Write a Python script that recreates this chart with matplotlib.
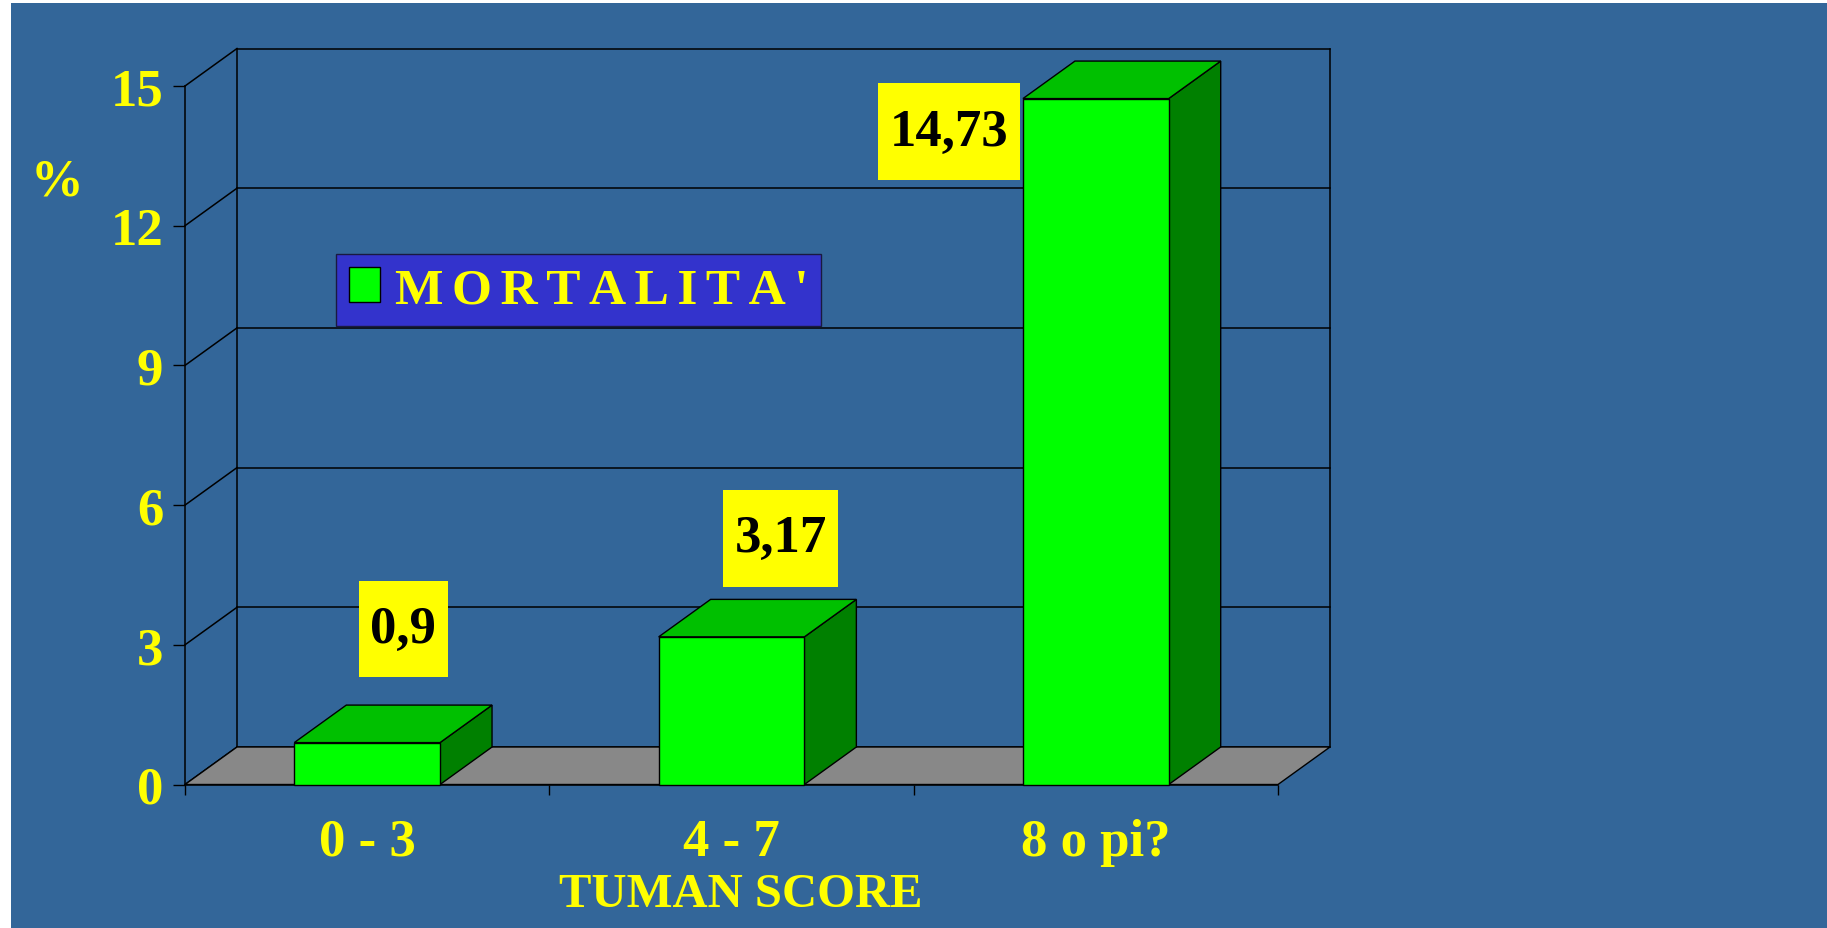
import matplotlib
matplotlib.use('Agg')
import matplotlib.pyplot as plt
from matplotlib.patches import Rectangle, Polygon
from matplotlib.path import Path
import numpy as np

# ---------------- data ----------------
categories = ['0 - 3', '4 - 7', '8 o pi?']
mortality = [0.9, 3.17, 14.73]
value_labels = ['0,9', '3,17', '14,73']
y_ticks = [0, 3, 6, 9, 12, 15]
series_name = "MORTALITA'"
x_title = 'TUMAN SCORE'
y_title = '%'

# ---------------- style ----------------
W, H, DPI = 1827, 929, 100
BG = '#336699'
YELLOW = '#FFFF00'
FRONT, TOP, SIDE = '#00FF00', '#00C000', '#008000'
FLOOR = '#888888'
LEGEND_BG = '#3333CC'
FONT = ['Liberation Serif', 'DejaVu Serif']
FS = 38

fig = plt.figure(figsize=(W / DPI, H / DPI), dpi=DPI, facecolor='white')
fig.patches.append(Rectangle((11 / W, 0), 1 - 11 / W, 1 - 4 / H,
                             transform=fig.transFigure, facecolor=BG,
                             edgecolor='none', zorder=-10))

# front plane of the 3-D box
ax_l, ax_r, ax_b, ax_t = 185, 1278, 785.5, 87
ax = fig.add_axes([ax_l / W, (H - ax_b) / H, (ax_r - ax_l) / W, (ax_b - ax_t) / H])
n = len(categories)
ymax = y_ticks[-1]
ax.set_xlim(0, n)
ax.set_ylim(0, ymax)
ax.patch.set_visible(False)

# depth of the 3-D effect, in data units
DX = 52 * n / (ax_r - ax_l)
DY = 37.5 * ymax / (ax_b - ax_t)

# walls and gridlines
lk = dict(color='black', lw=1.1, clip_on=False, zorder=1)
for v in y_ticks:
    ax.plot([DX, n + DX], [v + DY, v + DY], **lk)
    ax.plot([0, DX], [v, v + DY], **lk)
ax.plot([DX, DX], [DY, ymax + DY], **lk)
ax.plot([n + DX, n + DX], [DY, ymax + DY], **lk)

# floor
ax.add_patch(Polygon([(0, 0), (n, 0), (n + DX, DY), (DX, DY)], closed=True,
                     facecolor=FLOOR, edgecolor='black', lw=1, zorder=2, clip_on=False))

# bars
xc = np.arange(n) + 0.5
BW = 0.4
for i, (x, v) in enumerate(zip(xc, mortality)):
    x0, x1 = x - BW / 2, x + BW / 2
    ax.add_patch(Polygon([(x1, 0), (x1 + DX, DY), (x1 + DX, v + DY), (x1, v)], closed=True,
                         facecolor=SIDE, edgecolor='black', lw=1, zorder=3, clip_on=False))
    ax.add_patch(Polygon([(x0, v), (x1, v), (x1 + DX, v + DY), (x0 + DX, v + DY)], closed=True,
                         facecolor=TOP, edgecolor='black', lw=1, zorder=3, clip_on=False))
bars = ax.bar(xc, mortality, width=BW, color=FRONT, edgecolor='black', lw=1,
              zorder=4, label='\u2006'.join(series_name), clip_on=False)


# value labels in yellow boxes
def label_box(x0, y0, width, height, mutation_size):
    px, py = 0.22 * mutation_size, 0.46 * mutation_size
    xa, ya = x0 - px, y0 - py
    xb, yb = x0 + width + px, y0 + height + py
    return Path([(xa, ya), (xb, ya), (xb, yb), (xa, yb), (xa, ya)], closed=True)


label_offsets_px = [(36, 113.5), (49, 98.5), (-147, -33)]
for x, v, lbl, (dx, dy) in zip(xc, mortality, value_labels, label_offsets_px):
    ax.annotate(lbl, xy=(x, v), xytext=(dx * 0.72, dy * 0.72), textcoords='offset points',
                ha='center', va='center', fontsize=FS, fontweight='bold', family=FONT,
                color='black', zorder=6, annotation_clip=False,
                bbox=dict(boxstyle=label_box, facecolor=YELLOW, edgecolor='none'))

# axes, ticks
for s in ['top', 'right']:
    ax.spines[s].set_visible(False)
for s in ['left', 'bottom']:
    ax.spines[s].set_color('black')
    ax.spines[s].set_linewidth(1.1)
ax.set_yticks(y_ticks)
ax.set_yticklabels([str(t) for t in y_ticks], fontsize=FS, fontweight='bold',
                   family=FONT, color=YELLOW)
ax.tick_params(axis='y', direction='out', length=8.6, width=1, color='black', pad=7)
ax.set_xticks(np.arange(n + 1))
ax.set_xticklabels([])
ax.tick_params(axis='x', which='major', direction='out', length=7.2, width=1, color='black')
ax.set_xticks(xc, minor=True)
ax.set_xticklabels(categories, minor=True, fontsize=FS, fontweight='bold',
                   family=FONT, color=YELLOW)
ax.tick_params(axis='x', which='minor', length=0, pad=24)

fig.text(57.5 / W, 1 - 182 / H, y_title, ha='center', va='center', fontsize=FS,
         fontweight='bold', family=FONT, color=YELLOW)
fig.text(740.5 / W, 1 - 895 / H, x_title, ha='center', va='center', fontsize=35,
         fontweight='bold', family=FONT, color=YELLOW)

# legend
leg = ax.legend(handles=[bars], loc='upper left', bbox_to_anchor=(336 / W, 1 - 255 / H),
                bbox_transform=fig.transFigure, borderaxespad=0, frameon=True,
                fancybox=False, framealpha=1, facecolor=LEGEND_BG, edgecolor='#1a1a40',
                labelcolor=YELLOW, prop=dict(family=FONT, weight='bold', size=37),
                handlelength=0.6, handleheight=0.68, handletextpad=0.3, borderpad=0.25)
leg.get_frame().set_linewidth(1)
leg.set_zorder(7)

fig.savefig('out.png', dpi=DPI, facecolor=fig.get_facecolor())
